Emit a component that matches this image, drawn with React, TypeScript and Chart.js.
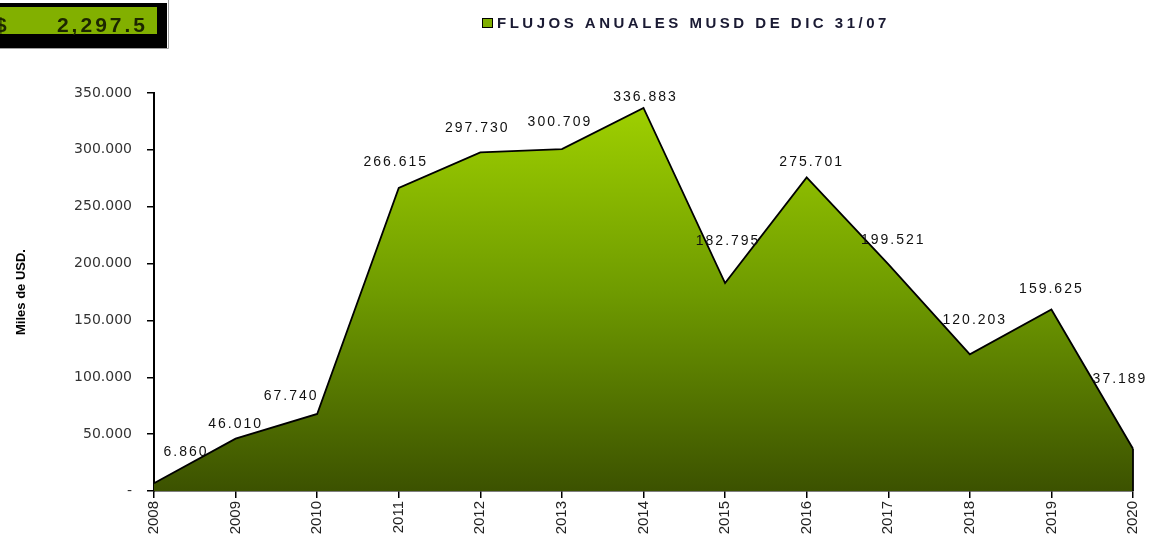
import React, { useEffect, useRef } from "react";
import { Chart, registerables } from "chart.js";

Chart.register(...registerables);

const years = ["2008", "2009", "2010", "2011", "2012", "2013", "2014", "2015", "2016", "2017", "2018", "2019", "2020"];
const flujos = [6860, 46010, 67740, 266615, 297730, 300709, 336883, 182795, 275701, 199521, 120203, 159625, 37189];
const legendLabel = "FLUJOS ANUALES MUSD DE DIC 31/07";
const yTitle = "Miles de USD.";
const boxCurrency = "$";
const boxValue = "2,297.5";
// label offsets (px) relative to each point
const labelNudges = [
  [32, -31], [0, -15], [-26, -18], [-3, -26], [-3, -24], [-2, -27], [2, -11],
  [3, -42], [5, -15], [5, -24], [5, -34], [0, -20], [-13, -70],
];

function fmt(v: number): string {
  if (v === 0) return "-";
  const s = Math.round(v).toString();
  return s.replace(/\B(?=(\d{3})+(?!\d))/g, ".");
}

const decorPlugin = {
  id: "decor",
  beforeDraw(chart: any) {
    const ctx = chart.ctx;
    ctx.save();
    // top-left total box
    ctx.fillStyle = "#000";
    ctx.fillRect(-10, 3, 177, 45);
    ctx.fillStyle = "#82b000";
    ctx.fillRect(-10, 7, 167, 27);
    ctx.strokeStyle = "#a0a0a0";
    ctx.lineWidth = 1;
    ctx.beginPath();
    ctx.moveTo(168.5, 0);
    ctx.lineTo(168.5, 48.5);
    ctx.lineTo(-10, 48.5);
    ctx.stroke();
    ctx.fillStyle = "#1c2600";
    ctx.font = "bold 21px 'Liberation Sans', Arial, sans-serif";
    ctx.textBaseline = "alphabetic";
    ctx.textAlign = "left";
    ctx.fillText(boxCurrency, -5, 32);
    (ctx as any).letterSpacing = "3px";
    ctx.textAlign = "right";
    ctx.fillText(boxValue, 148, 32);
    (ctx as any).letterSpacing = "0px";

    // legend
    ctx.fillStyle = "#7fae00";
    ctx.fillRect(482, 18, 10, 9);
    ctx.strokeStyle = "#000";
    ctx.lineWidth = 1;
    ctx.strokeRect(482.5, 18.5, 10, 9);
    ctx.fillStyle = "#1a1a33";
    ctx.font = "bold 15px 'Liberation Sans', Arial, sans-serif";
    ctx.textAlign = "left";
    (ctx as any).letterSpacing = "3.5px";
    ctx.fillText(legendLabel, 497, 28);
    (ctx as any).letterSpacing = "0px";
    ctx.restore();
  },
  afterDatasetsDraw(chart: any) {
    const ctx = chart.ctx;
    const meta = chart.getDatasetMeta(0);
    const pts = meta.data;
    const area = chart.chartArea;
    ctx.save();
    // right edge vertical line
    const last = pts[pts.length - 1];
    ctx.strokeStyle = "#000";
    ctx.lineWidth = 1.8;
    ctx.beginPath();
    ctx.moveTo(last.x, last.y);
    ctx.lineTo(last.x, area.bottom);
    ctx.stroke();
    // data labels
    ctx.fillStyle = "#111";
    ctx.font = "14px 'Liberation Sans', Arial, sans-serif";
    ctx.textAlign = "center";
    ctx.textBaseline = "middle";
    (ctx as any).letterSpacing = "2px";
    pts.forEach((p: any, i: number) => {
      const n = labelNudges[i] || [0, -20];
      ctx.fillText(fmt(flujos[i]), p.x + n[0], p.y + n[1]);
    });
    (ctx as any).letterSpacing = "0px";
    ctx.restore();
  },
};

export default function App() {
  const ref = useRef<HTMLCanvasElement | null>(null);
  useEffect(() => {
    if (!ref.current) return;
    const chart = new Chart(ref.current, {
      type: "line",
      data: {
        labels: years,
        datasets: [
          {
            label: legendLabel,
            data: flujos,
            borderColor: "#000",
            borderWidth: 1.8,
            pointRadius: 0,
            tension: 0,
            fill: "origin",
            backgroundColor: (c: any) => {
              const area = c.chart.chartArea;
              if (!area) return "#6f9b00";
              const g = c.chart.ctx.createLinearGradient(0, area.top, 0, area.bottom);
              g.addColorStop(0, "#a2d400");
              g.addColorStop(0.5, "#6f9b00");
              g.addColorStop(1, "#3c5200");
              return g;
            },
          },
        ],
      },
      options: {
        responsive: true,
        maintainAspectRatio: false,
        animation: false,
        layout: { padding: { top: 93, right: 17, left: 0, bottom: 0 } },
        plugins: {
          legend: { display: false },
          tooltip: { enabled: false },
        },
        scales: {
          x: {
            offset: false,
            afterFit: (s: any) => {
              s.height = 51;
              s.paddingLeft = 0;
              s.paddingRight = 0;
            },
            grid: {
              drawOnChartArea: false,
              drawTicks: true,
              tickLength: 7,
              color: "#000",
              lineWidth: 1.5,
            },
            border: { display: true, color: "#000", width: 1.5 },
            ticks: {
              minRotation: 90,
              maxRotation: 90,
              autoSkip: false,
              padding: 3,
              color: "#222",
              font: { family: "'Liberation Sans', Arial, sans-serif", size: 15 },
            },
          },
          y: {
            min: 0,
            max: 350000,
            afterFit: (s: any) => {
              s.width = 154;
              s.paddingTop = 0;
              s.paddingBottom = 0;
            },
            grid: {
              drawOnChartArea: false,
              drawTicks: true,
              tickLength: 7,
              color: "#000",
              lineWidth: 1.5,
            },
            border: { display: true, color: "#000", width: 2 },
            title: {
              display: true,
              text: yTitle,
              color: "#000",
              padding: { top: 14, bottom: 0 },
              font: { family: "'Liberation Sans', Arial, sans-serif", size: 13, weight: "bold" },
            },
            ticks: {
              stepSize: 50000,
              padding: 15,
              color: "#333",
              font: { family: "'DejaVu Sans', sans-serif", size: 14 },
              callback: (v: any) => fmt(Number(v)),
            },
          },
        },
      },
      plugins: [decorPlugin],
    });
    return () => chart.destroy();
  }, []);
  return (
    <div style={{ position: "fixed", left: 0, top: 0, width: 1150, height: 542, background: "#fff" }}>
      <canvas ref={ref} />
    </div>
  );
}
